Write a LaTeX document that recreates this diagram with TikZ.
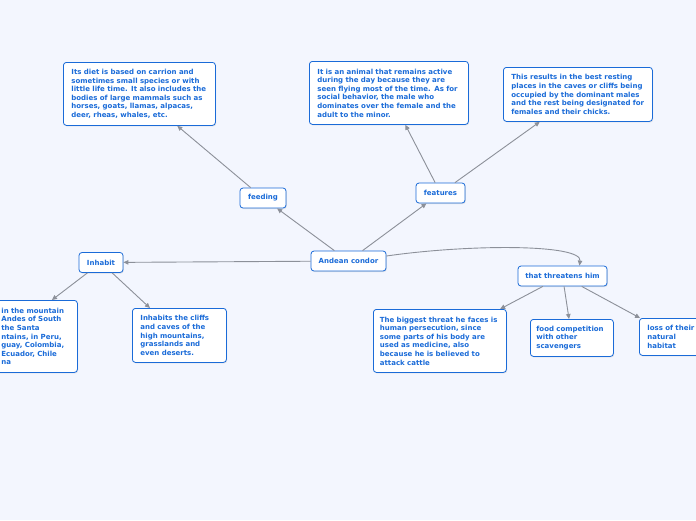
\documentclass[tikz,border=0pt]{standalone}
\usepackage{fontspec}
\setmainfont{DejaVu Sans}
\usetikzlibrary{arrows.meta,shadows}
\definecolor{mapbg}{HTML}{F3F6FE}
\definecolor{mapblue}{HTML}{1A6BD8}
\definecolor{mapline}{HTML}{8C9099}
\begin{document}
\begin{tikzpicture}[x=1pt, y=-1pt,
  every node/.style={draw=mapblue, fill=white, rounded corners=3pt, text=mapblue, line width=0.8pt, font=\fontsize{7}{8.6}\selectfont\bfseries, drop shadow={shadow xshift=0.8pt, shadow yshift=-1pt, opacity=0.2}},
  topic/.style={minimum height=20pt, inner sep=0pt},
  leaf/.style={anchor=north west, align=left, inner xsep=8pt, inner ysep=0pt},
  link/.style={draw=mapline, line width=0.9pt, -{Triangle[length=5pt, width=4.5pt]}}]

  \fill[mapbg] (0,0) rectangle (696,520);
  \useasboundingbox (0,0) rectangle (696,520);

  \node[topic, minimum width=75pt] (condor) at (348.5,261) {Andean condor};
  \node[topic, minimum width=46pt] (feeding) at (263,198) {feeding};
  \node[topic, minimum width=49pt] (features) at (440.5,193) {features};
  \node[topic, minimum width=44pt] (inhabit) at (101,262.5) {Inhabit};
  \node[topic, minimum width=89pt] (threatens) at (562.5,276) {that threatens him};

  \node[leaf, text width=136pt, minimum height=63pt] (diet) at (63,62) {Its diet is based on carrion and\\ sometimes small species or with\\ little life time. It also includes the\\ bodies of large mammals such as\\ horses, goats, llamas, alpacas,\\ deer, rheas, whales, etc.};
  \node[leaf, text width=143pt, minimum height=63pt] (active) at (309,61) {It is an animal that remains active\\ during the day because they are\\ seen flying most of the time. As for\\ social behavior, the male who\\ dominates over the female and the\\ adult to the minor.};
  \node[leaf, text width=133pt, minimum height=54pt] (resting) at (503,67) {This results in the best resting\\ places in the caves or cliffs being\\ occupied by the dominant males\\ and the rest being designated for\\ females and their chicks.};
  \node[leaf, text width=130pt, minimum height=72pt] (mountain) at (-69,300) {\leftskip=62pt in the mountain\\ Andes of South\\ the Santa\\ ntains, in Peru,\\ guay, Colombia,\\ Ecuador, Chile\\ na\par};
  \node[leaf, text width=78pt, minimum height=54pt] (cliffs) at (132,308) {Inhabits the cliffs\\ and caves of the\\ high mountains,\\ grasslands and\\ even deserts.};
  \node[leaf, text width=120pt, inner xsep=6.5pt, minimum height=63pt] (threat) at (373,309) {The biggest threat he faces is\\ human persecution, since\\ some parts of his body are\\ used as medicine, also\\ because he is believed to\\ attack cattle};
  \node[leaf, text width=71pt, inner xsep=6pt, minimum height=37pt] (food) at (530,319) {food competition\\ with other\\ scavengers};
  \node[leaf, text width=55pt, minimum height=37pt] (loss) at (639,318) {loss of their\\ natural\\ habitat};

  \draw[link] (condor) -- (feeding);
  \draw[link] (condor) -- (features);
  \draw[link] (condor) -- (inhabit);
  \draw[link] ([yshift=5pt]condor.east) .. controls (470,244) and (582,244) .. ([xshift=17pt]threatens.north);
  \draw[link] (feeding) -- (diet);
  \draw[link] (features) -- (active);
  \draw[link] (features) -- (resting);
  \draw[link] (inhabit) -- (mountain);
  \draw[link] (inhabit) -- (cliffs);
  \draw[link] (threatens) -- (threat);
  \draw[link] (threatens) -- (food);
  \draw[link] (threatens) -- (loss);

\end{tikzpicture}
\end{document}
